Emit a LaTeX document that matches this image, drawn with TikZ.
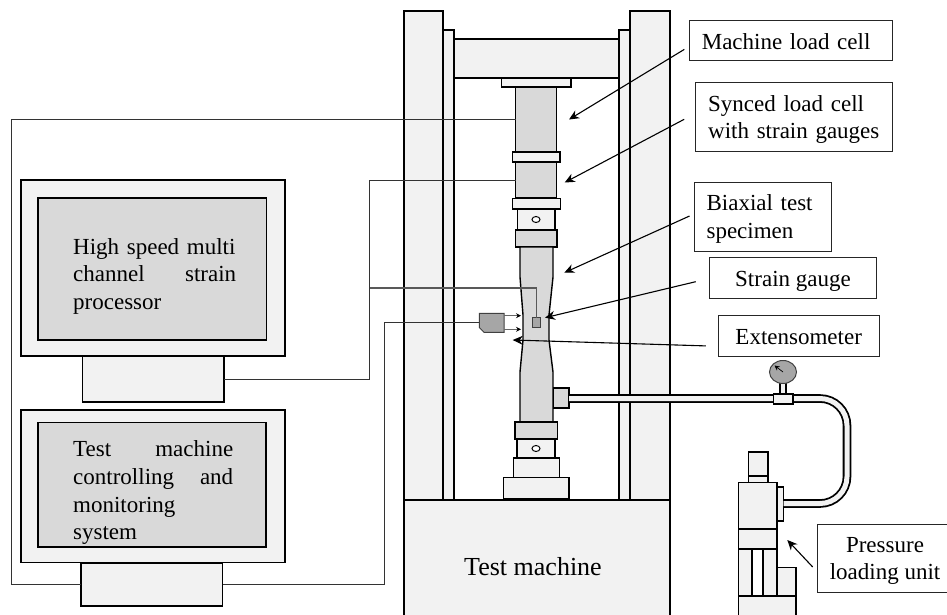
\documentclass[tikz,border=0pt]{standalone}
\usepackage{fontspec}
\setmainfont{Liberation Serif}
\usetikzlibrary{arrows.meta,shapes.geometric}

\definecolor{partlightfill}{HTML}{F2F2F2}
\definecolor{partmidfill}{HTML}{D9D9D9}
\definecolor{partdarkfill}{HTML}{A6A6A6}

\tikzset{
    partlight/.style={draw=black, line width=1.9pt, fill=partlightfill, inner sep=0, outer sep=0},
    partmid/.style={draw=black, line width=1.9pt, fill=partmidfill, inner sep=0, outer sep=0},
    partdark/.style={draw=black!75, line width=1pt, fill=partdarkfill, inner sep=0, outer sep=0},
    labelbox/.style={draw=black!85, line width=1pt, fill=white, align=center, inner xsep=12.5pt, inner ysep=0, outer sep=0},
    oneline/.style={text height=18pt, text depth=0pt},
    twolines/.style={text depth=27.7pt},
    wire/.style={draw=black!80, line width=1pt},
    pointer/.style={draw=black, line width=1.1pt, -{Stealth[length=10pt,width=9pt]}},
    probe/.style={draw=black!60, line width=0.8pt, -{Stealth[length=5pt,width=5pt,black]}},
    bodytext/.style={font=\fontsize{23}{27.7}\selectfont}
}

\begin{document}
\begin{tikzpicture}[x=1pt, y=-1pt, bodytext]
    \clip (0, 0) rectangle (947, 615);

    % frame columns and cross beam
    \draw [partlight] (404, 11) rectangle (443, 500);
    \draw [partlight] (443, 30) rectangle (454, 500);
    \draw [partlight] (454, 39) rectangle (619, 78);
    \draw [partlight] (619, 30) rectangle (630, 500);
    \draw [partlight] (630, 11) rectangle (670, 500);

    % upper load train
    \draw [partlight] (501.5, 78) rectangle (571, 87);
    \node [partmid, minimum width=41pt, minimum height=65pt] (loadcell) at (536, 119.5) {};
    \draw [partlight] (512.5, 152) rectangle (560, 162);
    \node [partmid, minimum width=41pt, minimum height=36pt] (syncedcell) at (536, 180) {};
    \draw [partlight] (512.5, 198.5) rectangle (560.5, 209);
    \draw [partlight] (517.5, 209) rectangle (555, 230);
    \draw [draw=black, line width=1pt, fill=white] (536, 219.5) ellipse [x radius=4, y radius=3];
    \draw [partmid] (515.5, 230) rectangle (557, 247);

    % biaxial specimen
    \draw [partmid, line width=1.4pt] (520, 247) -- (520, 277) -- (523, 315) -- (523, 340)
        -- (520, 372) -- (520, 422) -- (553, 422) -- (553, 372) -- (549, 340) -- (549, 315)
        -- (553, 277) -- (553, 247) -- cycle;

    % lower load train
    \draw [partmid] (515, 422) rectangle (557.5, 439);
    \draw [partlight] (517, 439) rectangle (555, 458);
    \draw [draw=black, line width=1pt, fill=white] (536, 448.5) ellipse [x radius=4, y radius=3];
    \draw [partlight] (513.5, 458) rectangle (559.5, 477.5);
    \draw [partlight] (503.5, 477.5) rectangle (569, 498.5);

    % machine base
    \node [partlight, line width=1.2pt, minimum width=266pt, minimum height=130pt] (machinebase) at (537, 565) {};
    \node [font=\fontsize{26}{30}\selectfont] (machinetext) at (533, 567) {Test machine};

    % hydraulic line
    \coordinate (pipebenda) at (847, 398.5);
    \coordinate (pipebendb) at (847, 503.5);
    \node [partmid, minimum width=15.5pt, minimum height=19.5pt] (port) at (561.25, 398) {};
    \node [partlight, minimum width=6pt, minimum height=34pt] (flange) at (780.5, 504) {};
    \draw [line width=8.6pt, rounded corners=27pt] (port.east |- pipebenda) -- (pipebenda) -- (pipebendb) -- (flange.east |- pipebendb);
    \draw [line width=5pt, draw=partlightfill, rounded corners=27pt] (port.east |- pipebenda) -- (pipebenda) -- (pipebendb) -- (flange.east |- pipebendb);
    \draw [partlight] (780, 383) rectangle (786, 394);
    \node [partlight, minimum width=19.5pt, minimum height=10pt] (tee) at (783.25, 399) {};
    \node [partdark, ellipse, minimum width=27pt, minimum height=23pt] (dial) at (783, 372) {};
    \coordinate (dialtip) at (774.5, 365.5);
    \draw [draw=black, line width=0.7pt, -{Stealth[length=5pt,width=5pt]}] (dial.center) -- (dialtip);

    % pressure loading unit
    \draw [partlight] (748.5, 452) rectangle (768, 476);
    \draw [partlight] (748.5, 476) rectangle (768, 482.5);
    \draw [partlight] (738.5, 482.5) rectangle (777, 529);
    \draw [partlight] (738.5, 529) rectangle (777, 549);
    \draw [partlight] (738.5, 549) rectangle (752, 596);
    \draw [draw=black, line width=1.9pt, fill=white] (752, 549) rectangle (763, 596);
    \draw [partlight] (763, 549) rectangle (777, 596);
    \draw [partlight] (777, 567.5) rectangle (796, 596);
    \draw [partlight] (738.5, 596) rectangle (796, 625);

    % strain processor
    \node [partlight, minimum width=264pt, minimum height=176pt] (monitora) at (153, 268) {};
    \node [partmid, minimum width=228.5pt, minimum height=142pt] (screena) at (152.25, 269) {};
    \node [partlight, minimum width=141.5pt, minimum height=46pt] (standa) at (153.25, 379) {};
    \node [anchor=north west, inner sep=0, text width=163pt, align=left] (screenatext) at (73, 238)
        {High speed multi\\channel\hfill strain\\processor};

    % test machine control
    \node [partlight, minimum width=264pt, minimum height=152.5pt] (monitorb) at (153, 486.25) {};
    \node [partmid, minimum width=228pt, minimum height=124.5pt] (screenb) at (152, 484.75) {};
    \node [partlight, minimum width=141.5pt, minimum height=43pt] (standb) at (151.75, 584.5) {};
    \node [anchor=north west, inner sep=0, text width=160pt, align=left] (screenbtext) at (73, 440.5)
        {Test\hfill machine\\controlling\hfill and\\monitoring\\system};

    % specimen instruments
    \node [partdark, minimum width=8.4pt, minimum height=9.6pt] (gaugepatch) at (536.5, 322.5) {};
    \draw [partdark] (479.3, 313.3) -- (504, 313.3) -- (504, 332.3) -- (484, 332.3) -- (479.3, 327.5) -- cycle;
    \coordinate (extensowest) at (479.3, 322.8);
    \coordinate (extensoeast) at (504, 322.8);
    \coordinate (probea) at (521, 315.7);
    \coordinate (probeb) at (521, 329.3);
    \draw [probe] (extensoeast |- probea) -- (probea);
    \draw [probe] (extensoeast |- probeb) -- (probeb);

    % wires
    \coordinate (wireleft) at (11.7, 350);
    \coordinate (wirea) at (369.5, 280);
    \coordinate (wireb) at (384.7, 450);
    \coordinate (branch) at (369.5, 288);
    \draw [wire] (loadcell.west) -| (wireleft) |- (standb.west);
    \draw [wire] (standa.east) -| (wirea) |- (syncedcell.west);
    \draw [wire, line width=1.3pt, draw=black!65] (branch) -| (gaugepatch.north);
    \draw [wire] (standb.east) -| (wireb) |- (extensowest);

    % labels
    \node [labelbox, oneline, text width=178pt, minimum height=40.7pt, align=left] (machinelabel) at (790.8, 40.4) {Machine load cell};
    \node [labelbox, twolines, text width=171.6pt, minimum height=68.3pt, align=left] (syncedlabel) at (794, 116.9) {Synced load cell\\with strain gauges};
    \node [labelbox, twolines, text width=112.7pt, minimum height=69pt, align=left] (biaxiallabel) at (762.9, 216.8) {Biaxial test\\specimen};
    \node [labelbox, oneline, minimum width=166.6pt, minimum height=40.3pt] (gaugelabel) at (793, 277.9) {Strain gauge};
    \node [labelbox, oneline, minimum width=160.7pt, minimum height=40.3pt] (extensolabel) at (798.7, 335.9) {Extensometer};
    \node [labelbox, text depth=0pt, minimum width=136pt, minimum height=68.7pt] (pressurelabel) at (885, 558.4) {Pressure\\loading unit};

    % label pointers
    \coordinate (machinetip) at (569, 119.5);
    \coordinate (syncedtip) at (564.7, 182.5);
    \coordinate (biaxialtip) at (564.3, 272.7);
    \coordinate (gaugetip) at (545, 317.7);
    \coordinate (extensotip) at (512.7, 340);
    \coordinate (pressuretip) at (787.3, 540);
    \draw [pointer] ([xshift=-5pt, yshift=-9pt]machinelabel.west) -- (machinetip);
    \draw [pointer] ([xshift=-11.5pt, yshift=-2.4pt]syncedlabel.west) -- (syncedtip);
    \draw [pointer] ([xshift=-4.5pt, yshift=0.8pt]biaxiallabel.west) -- (biaxialtip);
    \draw [pointer] ([xshift=-14pt, yshift=-3.8pt]gaugelabel.west) -- (gaugetip);
    \draw [pointer] ([xshift=-12.6pt, yshift=-10pt]extensolabel.west) -- (extensotip);
    \draw [pointer] ([xshift=-4.3pt, yshift=-8.6pt]pressurelabel.west) -- (pressuretip);
\end{tikzpicture}
\end{document}
